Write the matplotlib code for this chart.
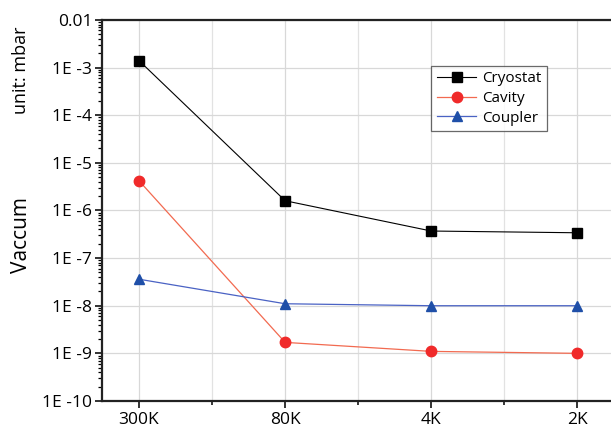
import numpy as np
import matplotlib
matplotlib.use("Agg")
import matplotlib.pyplot as plt
from matplotlib.ticker import FixedLocator, LogLocator, FuncFormatter, NullFormatter

# data
stages = ["300K", "80K", "4K", "2K"]
cryostat = [1.4e-3, 1.6e-6, 3.7e-7, 3.4e-7]
cavity = [4.2e-6, 1.7e-9, 1.1e-9, 1.0e-9]
coupler = [3.6e-8, 1.1e-8, 1.0e-8, 1.0e-8]

plt.rcParams['font.family'] = ['Open Sans', 'DejaVu Sans']

fig = plt.figure(figsize=(6.11, 4.37), dpi=100)
ax = fig.add_axes([0.167, 0.0824, 0.833, 0.872])

x = np.arange(len(stages))
ax.plot(x, cryostat, color="black", lw=0.8, marker="s", ms=6.5,
        mfc="black", mec="black", label="Cryostat")
ax.plot(x, cavity, color="#f26a50", lw=0.9, marker="o", ms=7.5,
        mfc="#f02a2a", mec="#f02a2a", label="Cavity")
ax.plot(x, coupler, color="#4a62c4", lw=0.9, marker="^", ms=7.5,
        mfc="#1f4fa8", mec="#1f4fa8", label="Coupler")

ax.set_yscale("log")
ax.set_ylim(1e-10, 1e-2)
ax.set_xlim(-0.253, 3.23)

ax.set_xticks(x)
ax.set_xticklabels(stages)
ax.xaxis.set_minor_locator(FixedLocator([0.5, 1.5, 2.5]))

def fmt(v, pos):
    e = int(round(np.log10(v)))
    if e == -2:
        return "0.01"
    return "1E %d" % e

ax.yaxis.set_major_locator(LogLocator(base=10, numticks=20))
ax.yaxis.set_major_formatter(FuncFormatter(fmt))
ax.yaxis.set_minor_locator(LogLocator(base=10, subs=np.arange(2, 10), numticks=20))
ax.yaxis.set_minor_formatter(NullFormatter())

ax.grid(True, which="major", color="#d8d8d8", lw=0.9)
ax.grid(True, which="minor", axis="x", color="#e2e2e2", lw=0.9)
ax.set_axisbelow(True)

for s in ["left", "bottom", "top"]:
    ax.spines[s].set_linewidth(1.6)
    ax.spines[s].set_color("#222222")
ax.spines["right"].set_visible(False)

ax.tick_params(axis="both", which="major", direction="out", length=5, width=1.3,
               labelsize=12.5, colors="#222222", labelcolor="black")
ax.tick_params(axis="y", which="minor", direction="out", length=3, width=0.9)
ax.tick_params(axis="x", which="minor", direction="out", length=3, width=1.1)
ax.tick_params(axis="x", which="major", pad=3)
ax.tick_params(axis="y", which="major", pad=2)
ax.tick_params(top=False, right=False, which="both")

# no axis labels on the axes themselves, the titles are figure texts
ax.xaxis.label.set_visible(False)
ax.yaxis.label.set_visible(False)
ax.xaxis.offsetText.set_visible(False)
ax.yaxis.offsetText.set_visible(False)

fig.text(0.036, 0.462, "Vaccum", rotation=90, fontsize=15, ha="center", va="center")
fig.text(0.034, 0.84, "unit: mbar", rotation=90, fontsize=13, ha="center", va="center")

leg = ax.legend(loc="upper left", bbox_to_anchor=(0.647, 0.879), fontsize=11,
                frameon=True, fancybox=False, edgecolor="#444444",
                handlelength=2.6, handletextpad=0.4, borderpad=0.35,
                labelspacing=0.3, borderaxespad=0)
leg.get_frame().set_linewidth(0.9)

fig.savefig("out.png", dpi=100)
